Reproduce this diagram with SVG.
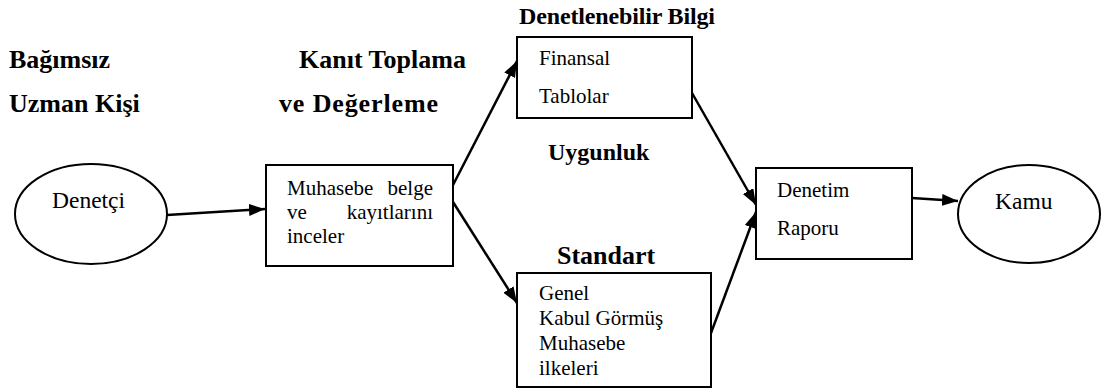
<svg xmlns="http://www.w3.org/2000/svg" width="1105" height="392" viewBox="0 0 1105 392">
<defs>
<marker id="ah" markerUnits="userSpaceOnUse" markerWidth="18" markerHeight="14" refX="16" refY="6" orient="auto">
<path d="M0,0 L16,6 L0,12 z" fill="#000"/>
</marker>
<style>
text{font-family:'Liberation Serif','Times New Roman',serif;fill:#000}
.lbl{font-weight:bold;font-size:26px}
.mid{font-size:24px}
.txt{font-size:21px}
.big{font-size:23.5px}
.box{fill:#fff;stroke:#000;stroke-width:2}
.edge{fill:none;stroke:#000;stroke-width:2.5;marker-end:url(#ah)}
</style>
</defs>
<rect width="1105" height="392" fill="#fff"/>
<g id="labels">
<text class="lbl" x="9" y="68">Bağımsız</text>
<text class="lbl" x="9" y="112">Uzman Kişi</text>
<text class="lbl" x="299" y="68">Kanıt Toplama</text>
<text class="lbl" x="279" y="112" textLength="159" lengthAdjust="spacing">ve Değerleme</text>
<text class="lbl mid" x="519" y="24" textLength="196" lengthAdjust="spacing">Denetlenebilir Bilgi</text>
<text class="lbl mid" x="548" y="160">Uygunluk</text>
<text class="lbl" x="557" y="264">Standart</text>
</g>
<g id="connectors">
<line class="edge" x1="167" y1="215" x2="265" y2="209"/>
<line class="edge" x1="453" y1="185" x2="517" y2="61"/>
<line class="edge" x1="453" y1="202" x2="517" y2="303"/>
<line class="edge" x1="692" y1="93" x2="756" y2="205"/>
<line class="edge" x1="711" y1="333" x2="756" y2="212"/>
<line class="edge" x1="912" y1="198" x2="958" y2="201"/>
</g>
<g id="denetci">
<ellipse class="box" cx="91" cy="214" rx="76" ry="50"/>
<text class="txt big" x="52" y="208">Denetçi</text>
</g>
<g id="muhasebe">
<rect class="box" x="266" y="165" width="187" height="101"/>
<text class="txt" x="287" y="195">Muhasebe</text>
<text class="txt" x="433" y="195" text-anchor="end">belge</text>
<text class="txt" x="287" y="219">ve</text>
<text class="txt" x="433" y="219" text-anchor="end">kayıtlarını</text>
<text class="txt" x="287" y="243">inceler</text>
</g>
<g id="finansal">
<rect class="box" x="517" y="37" width="175" height="81"/>
<text class="txt" x="539" y="65">Finansal</text>
<text class="txt" x="539" y="103">Tablolar</text>
</g>
<g id="standart">
<rect class="box" x="517" y="273" width="194" height="114"/>
<text class="txt" x="539" y="300">Genel</text>
<text class="txt" x="539" y="325">Kabul Görmüş</text>
<text class="txt" x="539" y="350">Muhasebe</text>
<text class="txt" x="539" y="375">ilkeleri</text>
</g>
<g id="rapor">
<rect class="box" x="756" y="168" width="156" height="91"/>
<text class="txt" x="777" y="197">Denetim</text>
<text class="txt" x="777" y="235">Raporu</text>
</g>
<g id="kamu">
<ellipse class="box" cx="1029" cy="214" rx="71" ry="49"/>
<text class="txt big" x="995" y="209">Kamu</text>
</g>
</svg>
